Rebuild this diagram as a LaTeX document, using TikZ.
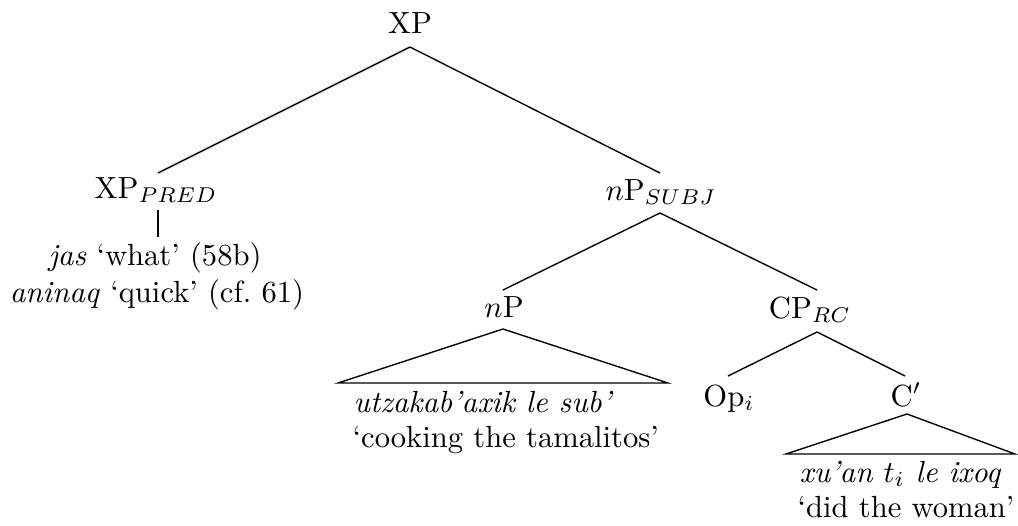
\documentclass[tikz,border=0pt]{standalone}
\usetikzlibrary{calc}
\begin{document}
\begin{tikzpicture}[x=0.3268pt,y=-0.3268pt,line width=0.45pt,
  lab/.style={anchor=base,inner sep=0pt,font=\fontsize{10}{12}\selectfont},
  edge/.style={draw,line width=0.45pt}]
\useasboundingbox (0,0) rectangle (1018,525);
% labels
\node[lab] (XP) at (410,33) {XP};
\node[lab] (XPpred) at (156,198) {XP$_{PRED}$};
\node[lab] (jas) at (155,265) {\textit{jas} `what' (58b)};
\node[lab] (aninaq) at (157,302) {\textit{aninaq} `quick' (cf.~61)};
\node[lab] (nPsubj) at (661,200) {$n$P$_{SUBJ}$};
\node[lab] (nP) at (504,317) {$n$P};
\node[lab,anchor=base west] (utz) at (353,412) {\textit{utzakab'axik le sub'}};
\node[lab,anchor=base west] (cook) at (352,447) {`cooking the tamalitos'};
\node[lab] (CPrc) at (810,318) {CP$_{RC}$};
\node[lab] (Op) at (729,406) {Op$_i$};
\node[lab] (Cbar) at (906,406) {C$'$};
\node[lab,anchor=base west] (xuan) at (799,482) {\textit{xu'an $t_i$ le ixoq}};
\node[lab,anchor=base west] (did) at (797,517) {`did the woman'};
% edges
\draw[edge] ($(XP.base)+(0,14)$) -- ($(XPpred.base)+(2,-25)$);
\draw[edge] ($(XP.base)+(0,14)$) -- ($(nPsubj.base)+(-1,-27)$);
\draw[edge] ($(XPpred.base)+(2,12)$) -- ($(jas.base)+(3,-28)$);
\draw[edge] ($(nPsubj.base)+(-1,13)$) -- ($(nP.base)+(-1,-27)$);
\draw[edge] ($(nPsubj.base)+(-1,13)$) -- ($(CPrc.base)+(7,-28)$);
\draw[edge] ($(CPrc.base)+(7,14)$) -- ($(Op.base)+(-1,-30)$);
\draw[edge] ($(CPrc.base)+(7,14)$) -- ($(Cbar.base)+(-1,-30)$);
% triangles
\draw[edge] ($(nP.base)+(-1,12)$) -- ($(utz.base west)+(-15,-29)$) -- ($(utz.base west)+(315,-29)$) -- cycle;
\draw[edge] ($(Cbar.base)+(1,8)$) -- ($(xuan.base west)+(-13,-28)$) -- ($(xuan.base west)+(216,-28)$) -- cycle;
\end{tikzpicture}
\end{document}
